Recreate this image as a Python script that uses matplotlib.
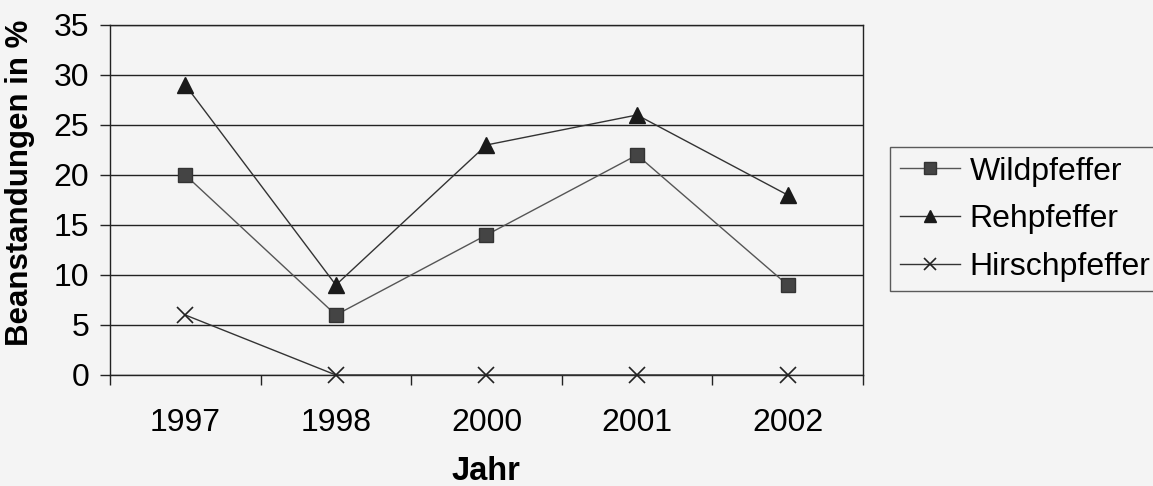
import matplotlib.pyplot as plt
import numpy as np

jahre = ["1997", "1998", "2000", "2001", "2002"]
wildpfeffer = [20, 6, 14, 22, 9]
rehpfeffer = [29, 9, 23, 26, 18]
hirschpfeffer = [6, 0, 0, 0, 0]

plt.rcParams["font.family"] = ["Liberation Sans", "DejaVu Sans"]

fig = plt.figure(figsize=(11.53, 4.86), dpi=100, facecolor="#f4f4f4")
ax = fig.add_axes([0.0954, 0.2284, 0.6530, 0.7202])
ax.set_facecolor("#f4f4f4")

x = np.arange(len(jahre))
ax.plot(x, wildpfeffer, color="#555555", lw=1.0, marker="s", ms=10,
        mfc="#444444", mec="#333333", label="Wildpfeffer", zorder=3)
ax.plot(x, rehpfeffer, color="#333333", lw=1.0, marker="^", ms=11,
        mfc="#1a1a1a", mec="#1a1a1a", label="Rehpfeffer", zorder=3)
ax.plot(x, hirschpfeffer, color="#333333", lw=1.0, marker="x", ms=11,
        mew=1.2, mec="#222222", label="Hirschpfeffer", zorder=3, clip_on=False)

ax.set_xlim(-0.5, len(jahre) - 0.5)
ax.set_ylim(0, 35)
ax.set_yticks(range(0, 36, 5))
ax.yaxis.grid(True, color="#222222", lw=1.0)
ax.set_axisbelow(True)

# category boundaries as major ticks, labels on minor ticks
ax.set_xticks(np.arange(-0.5, len(jahre)))
ax.set_xticklabels([])
ax.set_xticks(x, minor=True)
ax.set_xticklabels(jahre, minor=True)
ax.tick_params(axis="x", which="major", length=7, width=1, color="#222222")
ax.tick_params(axis="x", which="minor", length=0, pad=24, labelsize=23)
ax.tick_params(axis="y", length=7, width=1, color="#222222", labelsize=23, pad=8)

for s in ax.spines.values():
    s.set_color("#222222")
    s.set_linewidth(1.0)

ax.set_xlabel("Jahr", fontsize=23.5, fontweight="bold")
ax.xaxis.set_label_coords(0.5, -0.232)
ax.set_ylabel("Beanstandungen in %", fontsize=22.5, fontweight="bold")
ax.yaxis.set_label_coords(-0.100, 0.549)

leg = fig.legend(loc="upper left", bbox_to_anchor=(890 / 1153, 1 - 147 / 486),
                 fontsize=23, frameon=True, fancybox=False, edgecolor="#333333",
                 facecolor="#f4f4f4", handlelength=1.9, handletextpad=0.3,
                 labelspacing=0.55, borderpad=0.3, borderaxespad=0,
                 markerscale=0.85)
leg.get_frame().set_linewidth(1.0)

fig.savefig("out.png", dpi=100, facecolor=fig.get_facecolor())
